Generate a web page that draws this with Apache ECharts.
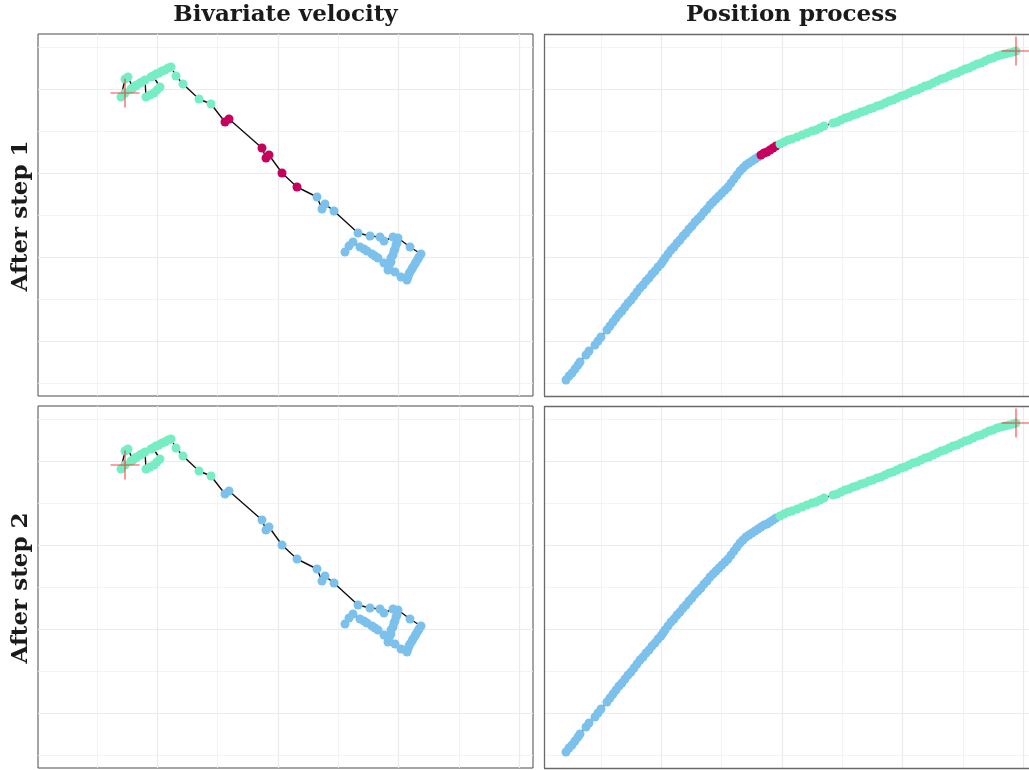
<!DOCTYPE html>
<html>
<head>
<meta charset="utf-8">
<script src="https://cdn.jsdelivr.net/npm/echarts@6/dist/echarts.min.js"></script>
<style>
html,body{margin:0;padding:0;background:#fff;}
#chart{width:1029px;height:770px;}
</style>
</head>
<body>
<div id="chart"></div>
<script>
// ---------------- DATA ----------------
const columnTitles = ['Bivariate velocity', 'Position process'];
const rowTitles = ['After step 1', 'After step 2'];

// bivariate velocity track (in time order)
const velX = [6.7,7.1,7.5,8.2,8.6,8.9,9.4,9.7,10.0,10.6,11.0,11.3,11.5,11.7,11.9,12.0,13.2,14.3,14.1,14.0,
  13.8,13.7,13.5,13.4,13.2,13.1,13.0,12.9,12.3,11.7,11.1,11.3,11.6,11.8,11.5,10.6,10.2,9.2,8.0,5.6,
  4.7,4.4,3.9,
  1.9,0.4,-0.9,-1.2,-1.6,-4.9,-5.3,
  -6.7,-7.9,-9.5,-10.2,-10.7,-11.0,-11.3,-11.6,-11.9,-12.2,-12.5,-12.7,-11.8,-12.1,-12.4,-12.8,-13.2,-13.3,-13.6,-13.8,
  -14.1,-14.3,-14.5,-14.7,-15.0,-15.3,-15.7,-15.3];
const velY = [0.5,1.1,1.5,1.0,0.8,0.6,0.3,0.1,-0.1,-0.6,-1.3,-0.5,0.2,0.8,1.4,1.9,1.0,0.3,0.0,-0.2,
  -0.5,-0.7,-1.0,-1.2,-1.5,-1.7,-2.0,-2.3,-2.0,-1.5,-0.9,-0.1,0.6,1.2,2.0,1.6,2.0,2.1,2.4,4.6,
  5.3,4.8,6.0,
  7.0,8.4,10.2,9.9,10.9,13.8,13.5,
  15.3,15.8,17.3,18.1,19.0,18.9,18.7,18.6,18.4,18.3,18.1,18.0,17.0,16.7,16.4,16.2,16.0,17.7,17.5,17.4,
  17.2,17.1,16.9,16.8,18.0,17.8,16.0,16.4];
// states: 1 = green, 2 = magenta, 3 = blue
const velState1 = '3333333333 3333333333 3333333333 3333333333 333 2222222 1111111111 1111111111 11111111';
const velState2 = '3333333333 3333333333 3333333333 3333333333 3333333333 1111111111 1111111111 11111111';

// position process track (in time order)
const posX = [-21.6,-21.3,-21.0,-20.7,-20.4,-20.2,-19.6,-19.3,-18.7,-18.4,-18.1,-17.5,-17.2,-16.9,-16.6,-16.3,-16.0,-15.7,-15.4,-15.1,
  -14.8,-14.5,-14.2,-13.9,-13.6,-13.3,-13.0,-12.7,-12.4,-12.1,-11.9,-11.7,-11.4,-11.1,-10.8,-10.5,-10.2,-9.9,-9.6,-9.3,
  -9.0,-8.7,-8.4,-8.1,-7.8,-7.5,-7.2,-6.9,-6.6,-6.3,-6.0,-5.7,-5.4,-5.1,-4.8,-4.5,-4.2,-3.9,-3.6,-3.3,
  -3.0,-2.7,-2.4,
  -2.1,-1.8,-1.5,-1.2,-0.9,-0.6,
  -0.2,0.2,0.6,1.0,1.5,2.0,2.5,3.0,3.4,3.8,4.2,5.1,5.5,5.9,6.3,6.7,7.1,7.5,7.9,8.3,
  8.7,9.1,9.5,9.9,10.3,10.7,11.1,11.5,11.9,12.3,12.7,13.1,13.5,13.9,14.3,14.7,15.1,15.5,15.9,16.3,
  16.7,17.1,17.5,17.9,18.3,18.7,19.1,19.5,19.9,20.3,20.7,21.1,21.5,21.9,22.3,22.7,23.1,23.4];
const posY = [-12.3,-11.9,-11.6,-11.2,-10.8,-10.5,-9.8,-9.4,-8.8,-8.4,-8.0,-7.3,-6.9,-6.5,-6.1,-5.7,-5.4,-5.0,-4.6,-4.3,
  -3.9,-3.5,-3.1,-2.8,-2.4,-2.1,-1.7,-1.4,-1.0,-0.7,-0.4,-0.1,0.3,0.7,1.0,1.4,1.7,2.1,2.4,2.8,
  3.1,3.5,3.8,4.1,4.5,4.8,5.2,5.5,5.8,6.1,6.4,6.7,7.0,7.4,7.8,8.2,8.6,8.9,9.2,9.4,
  9.6,9.8,10.0,
  10.2,10.4,10.5,10.7,10.9,11.1,
  11.3,11.5,11.7,11.8,12.0,12.2,12.4,12.6,12.7,12.9,13.1,13.4,13.5,13.7,13.9,14.0,14.2,14.3,14.5,14.6,
  14.8,14.9,15.1,15.2,15.4,15.6,15.7,15.9,16.1,16.2,16.4,16.6,16.7,16.9,17.1,17.2,17.4,17.6,17.8,17.9,
  18.1,18.3,18.4,18.6,18.8,18.9,19.1,19.3,19.4,19.6,19.8,19.9,20.1,20.2,20.3,20.4,20.5,20.6];
const posState1 = '3333333333 3333333333 3333333333 3333333333 3333333333 3333333333 333 222222 1111111111 1111111111 1111111111 1111111111 1111111111 11111111';
const posState2 = '3333333333 3333333333 3333333333 3333333333 3333333333 3333333333 333333333 1111111111 1111111111 1111111111 1111111111 1111111111 11111111';

// unlabeled reference grid lines (data units)
const gridMajorX = [-12.06, 0, 12.06, 24.12];
const gridMinorX = [-18.09, -6.03, 6.03, 18.09];
const gridMajorY = [-8.4, 0, 8.4, 16.8];
const gridMinorY = [-12.6, -4.2, 4.2, 12.6, 21.0];

// axis extents (position panel is cut off by the right edge of the image)
const velXRange = [-24.0, 25.5];
const posXRange = [-23.8, 24.7];
const yRange = [-13.9, 22.3];

// ---------------- STYLE ----------------
const stateColor = {1: '#77EDC4', 2: '#C6005E', 3: '#7CC0EC'};
const serif = '"DejaVu Serif", "Liberation Serif", serif';

const parseStates = s => s.replace(/ /g, '').split('').map(Number);

const panels = [
  {left: 38, top: 34, width: 495, xs: velX, ys: velY, st: parseStates(velState1), xr: velXRange, cut: false},
  {left: 544, top: 34, width: 485, xs: posX, ys: posY, st: parseStates(posState1), xr: posXRange, cut: true},
  {left: 38, top: 406, width: 495, xs: velX, ys: velY, st: parseStates(velState2), xr: velXRange, cut: false},
  {left: 544, top: 406, width: 485, xs: posX, ys: posY, st: parseStates(posState2), xr: posXRange, cut: true}
];

const grids = [], xAxes = [], yAxes = [], series = [];
const majorLS = {color: '#EBEBEB', width: 1.2, type: 'solid'};
const minorLS = {color: '#F0F0F0', width: 0.8, type: 'solid'};
const borderLS = {color: '#6a6a6a', width: 1.3, type: 'solid'};

panels.forEach((p, i) => {
  grids.push({left: p.left, top: p.top, width: p.width, height: 362, show: !p.cut,
    borderColor: '#4a4a4a', borderWidth: 1, backgroundColor: 'transparent', containLabel: false});
  xAxes.push({type: 'value', gridIndex: i, min: p.xr[0], max: p.xr[1], show: false});
  yAxes.push({type: 'value', gridIndex: i, min: yRange[0], max: yRange[1], show: false});

  const lines = [];
  gridMinorX.forEach(v => { if (v < p.xr[1]) lines.push({xAxis: v, lineStyle: minorLS}); });
  gridMinorY.forEach(v => lines.push({yAxis: v, lineStyle: minorLS}));
  gridMajorX.forEach(v => { if (v < p.xr[1]) lines.push({xAxis: v, lineStyle: majorLS}); });
  gridMajorY.forEach(v => lines.push({yAxis: v, lineStyle: majorLS}));
  if (p.cut) {
    lines.push({xAxis: p.xr[0], lineStyle: borderLS});
    lines.push({yAxis: yRange[0], lineStyle: borderLS});
    lines.push({yAxis: yRange[1], lineStyle: borderLS});
  }
  series.push({type: 'line', xAxisIndex: i, yAxisIndex: i, data: [], z: 0,
    markLine: {silent: true, symbol: ['none', 'none'], label: {show: false}, z: 0,
      animation: false, emphasis: {disabled: true}, data: lines}});

  // path
  series.push({type: 'line', xAxisIndex: i, yAxisIndex: i, z: 2, symbol: 'none', silent: true,
    lineStyle: {color: '#111111', width: 1.4}, animation: false,
    data: p.xs.map((x, k) => [x, p.ys[k]])});

  // points by state
  [3, 2, 1].forEach(s => {
    const d = [];
    p.xs.forEach((x, k) => { if (p.st[k] === s) d.push([x, p.ys[k]]); });
    if (d.length) series.push({type: 'scatter', xAxisIndex: i, yAxisIndex: i, z: 3, silent: true,
      symbolSize: 9, itemStyle: {color: stateColor[s], opacity: 1}, animation: false, data: d});
  });

  // final location cross
  const n = p.xs.length - 1;
  series.push({type: 'scatter', xAxisIndex: i, yAxisIndex: i, z: 4, silent: true,
    symbol: 'path://M13.2,0 H14.8 V13.2 H28 V14.8 H14.8 V28 H13.2 V14.8 H0 V13.2 H13.2 Z',
    symbolSize: 29, itemStyle: {color: 'rgba(255,30,30,0.7)'}, animation: false,
    data: [[p.xs[n], p.ys[n]]]});
});

const textStyle = {fontFamily: serif, fontWeight: 'bold', fontSize: 23, fill: '#1a1a1a',
  textAlign: 'center', textVerticalAlign: 'middle'};

const graphic = [
  {type: 'text', x: 285.5, y: 15.5, style: Object.assign({text: columnTitles[0]}, textStyle)},
  {type: 'text', x: 791.5, y: 15.5, style: Object.assign({text: columnTitles[1]}, textStyle)},
  {type: 'text', x: 21, y: 216, rotation: Math.PI / 2, style: Object.assign({text: rowTitles[0]}, textStyle)},
  {type: 'text', x: 21, y: 588, rotation: Math.PI / 2, style: Object.assign({text: rowTitles[1]}, textStyle)}
];

const chart = echarts.init(document.getElementById('chart'), null, {renderer: 'canvas'});
chart.setOption({
  animation: false,
  backgroundColor: '#ffffff',
  grid: grids, xAxis: xAxes, yAxis: yAxes, series: series, graphic: graphic
});
</script>
</body>
</html>
